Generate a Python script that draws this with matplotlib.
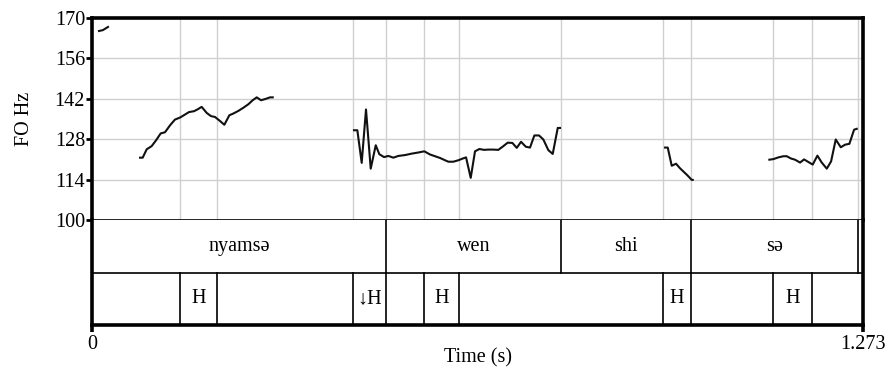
import matplotlib
matplotlib.use("Agg")
import matplotlib.pyplot as plt

plt.rcParams['font.family'] = ['Liberation Serif', 'DejaVu Serif']

# ---- pitch track segments (time s, F0 Hz) ----
seg1_t = [0.0116, 0.0180, 0.0264]
seg1_hz = [165.5, 165.8, 166.9]

seg2_t = [0.0793, 0.0837, 0.0903, 0.0985, 0.1057, 0.1134, 0.1205, 0.1288, 0.1370,
          0.1453, 0.1524, 0.1602, 0.1684, 0.1740, 0.1811, 0.1894, 0.1965, 0.2031,
          0.2114, 0.2185, 0.2268, 0.2334, 0.2416, 0.2499, 0.2581, 0.2653, 0.2720,
          0.2791, 0.2873, 0.2939, 0.2984]
seg2_hz = [121.6, 121.6, 124.5, 125.6, 127.6, 130.0, 130.4, 132.8, 134.8,
           135.5, 136.4, 137.4, 137.7, 138.3, 139.2, 137.1, 136.0, 135.7,
           134.3, 133.0, 136.3, 136.9, 137.8, 138.9, 140.1, 141.5, 142.5,
           141.5, 142.0, 142.5, 142.5]

seg3_t = [0.4326, 0.4381, 0.4453, 0.4524, 0.4602, 0.4685, 0.4744, 0.4822, 0.4893,
          0.4976, 0.5058, 0.5168, 0.5279, 0.5390, 0.5487, 0.5581, 0.5664, 0.5746,
          0.5829, 0.5884, 0.5966, 0.6049, 0.6121, 0.6176, 0.6253, 0.6324, 0.6396,
          0.6473, 0.6544, 0.6627, 0.6709, 0.6792, 0.6864, 0.6941, 0.7013, 0.7084,
          0.7162, 0.7232, 0.7304, 0.7381, 0.7452, 0.7535, 0.7607, 0.7690, 0.7728]
seg3_hz = [131.1, 131.1, 119.8, 138.3, 117.8, 125.9, 122.8, 121.8, 122.2,
           121.6, 122.2, 122.5, 123.0, 123.4, 123.8, 122.7, 122.1, 121.5,
           120.7, 120.2, 120.2, 120.7, 121.3, 121.7, 114.6, 123.8, 124.6,
           124.3, 124.4, 124.4, 124.3, 125.6, 126.8, 126.7, 125.0, 127.1,
           125.4, 125.1, 129.3, 129.3, 127.9, 124.2, 122.9, 131.9, 131.9]

seg4_t = [0.9462, 0.9506, 0.9572, 0.9643, 0.9710, 0.9775, 0.9830, 0.9902, 0.9919]
seg4_hz = [125.1, 125.1, 118.8, 119.5, 117.9, 116.6, 115.5, 113.9, 113.9]

seg5_t = [1.1184, 1.1250, 1.1333, 1.1416, 1.1471, 1.1542, 1.1608, 1.1691, 1.1757,
          1.1828, 1.1900, 1.1977, 1.2049, 1.2132, 1.2203, 1.2280, 1.2363, 1.2434,
          1.2505, 1.2583, 1.2627]
seg5_hz = [120.9, 121.1, 121.7, 122.1, 122.1, 121.3, 120.9, 119.9, 121.0,
           120.1, 119.2, 122.3, 119.9, 117.8, 120.3, 127.9, 125.2, 126.1,
           126.4, 131.3, 131.6]

segments = [(seg1_t, seg1_hz), (seg2_t, seg2_hz), (seg3_t, seg3_hz),
            (seg4_t, seg4_hz), (seg5_t, seg5_hz)]

# ---- annotation tiers ----
t_end = 1.273
word_bounds = [0.0, 0.4855, 0.7744, 0.989, 1.265, 1.273]
word_labels = ["nyamsə", "wen", "shi", "sə", ""]

tone_bounds = [0.0, 0.1453, 0.2064, 0.431, 0.4855, 0.548, 0.606, 0.943, 0.989,
               1.1245, 1.189, 1.273]
tone_labels = ["", "H", "", "↓H", "", "H", "", "H", "", "H", ""]

y_ticks = [100, 114, 128, 142, 156, 170]

FS = 14.5
W, H = 888, 377
fig = plt.figure(figsize=(W / 100, H / 100), dpi=100)
L = 92 / W
AW = 771 / W
ax = fig.add_axes([L, 1 - 220 / H, AW, 202 / H])
ax2 = fig.add_axes([L, 1 - 325 / H, AW, 105 / H], sharex=ax)

# grid
grid_x = sorted(set(word_bounds[1:-1]) | set(tone_bounds[1:-1]))
for gx in grid_x:
    ax.axvline(gx, color='#d0d0d0', lw=1.0, zorder=0)
for gy in y_ticks[1:-1]:
    ax.axhline(gy, color='#d0d0d0', lw=1.0, zorder=0)

for t, hz in segments:
    ax.plot(t, hz, color='#111111', lw=1.5, zorder=3)

ax.set_xlim(0, t_end)
ax.set_ylim(100, 170)
ax.set_yticks(y_ticks)
ax.set_yticklabels([str(v) for v in y_ticks], fontsize=FS)
ax.tick_params(axis='y', direction='out', length=4, width=2, pad=1)
ax.tick_params(axis='x', bottom=False, labelbottom=False)
ax.set_ylabel("FO Hz", fontsize=FS, labelpad=15)
for s in ['left', 'top', 'right']:
    ax.spines[s].set_linewidth(2.6)
ax.spines['bottom'].set_linewidth(1.2)

# tiers
ax2.set_ylim(0, 2)
ax2.set_xlim(0, t_end)
ax2.set_yticks([])
ax2.axhline(1, color='black', lw=1.2)
ax2.spines['top'].set_visible(False)
for s in ['left', 'right', 'bottom']:
    ax2.spines[s].set_linewidth(2.6)
for b in word_bounds[1:-1]:
    ax2.plot([b, b], [1, 2], color='black', lw=1.2)
for b in tone_bounds[1:-1]:
    ax2.plot([b, b], [0, 1], color='black', lw=1.2)
for i, lab in enumerate(word_labels):
    if lab:
        ax2.text((word_bounds[i] + word_bounds[i + 1]) / 2, 1.5, lab,
                 ha='center', va='center', fontsize=FS)
for i, lab in enumerate(tone_labels):
    if lab:
        ax2.text((tone_bounds[i] + tone_bounds[i + 1]) / 2, 0.5, lab,
                 ha='center', va='center', fontsize=FS)

ax2.set_xticks([0, t_end])
ax2.set_xticklabels(["0", "1.273"], fontsize=FS)
ax2.tick_params(axis='x', direction='out', length=5, width=2.6, pad=2)
ax2.set_xlabel("Time (s)", fontsize=FS, labelpad=-4)

fig.savefig("out.png", dpi=100)
